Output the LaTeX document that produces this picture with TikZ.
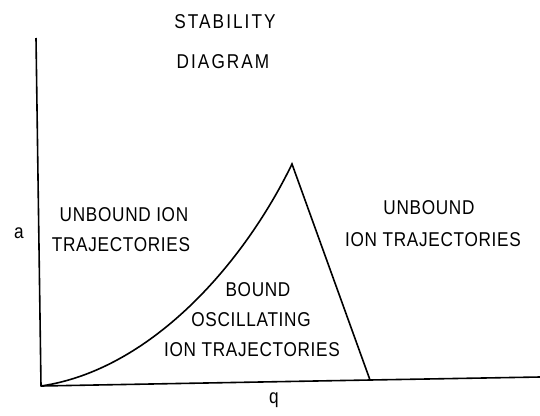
\documentclass[tikz,border=0pt]{standalone}
\usepackage{fontspec}
\setmainfont{Liberation Sans}[LetterSpace=4]
\begin{document}
\begin{tikzpicture}[x=1pt,y=-1pt,
  lbl/.style={font=\fontsize{20}{20}\selectfont, inner sep=0pt, align=center, xscale=0.86},
  ttl/.style={lbl, font=\fontsize{20}{20}\selectfont\addfontfeatures{LetterSpace=12}},
  axis/.style={line width=1.6pt, line join=round},
  curve/.style={line width=1.6pt, line join=miter}]
\useasboundingbox (0,0) rectangle (540,415);
\coordinate (top) at (36,38);
\coordinate (orig) at (41,386);
\coordinate (peak) at (292,164);
\coordinate (foot) at (370,380);
\coordinate (end) at (540,377);
\draw[axis] (top) -- (orig) -- (foot) -- (end);
\draw[curve] (orig) .. controls (150,370) and (243,265) .. (peak) -- (foot);
\node[ttl] (t1) at (225,22) {STABILITY};
\node[ttl] (t2) at (223,62) {DIAGRAM};
\node[lbl] (l1) at (124,215) {UNBOUND ION};
\node[lbl] (l2) at (121,245) {TRAJECTORIES};
\node[lbl] (r1) at (429,208) {UNBOUND};
\node[lbl] (r2) at (433,240) {ION TRAJECTORIES};
\node[lbl] (m1) at (258,290) {BOUND};
\node[lbl] (m2) at (251,320) {OSCILLATING};
\node[lbl] (m3) at (252,350) {ION TRAJECTORIES};
\node[lbl] (ya) at (19,233) {a};
\node[lbl] (xq) at (274,400) {q};
\end{tikzpicture}
\end{document}
